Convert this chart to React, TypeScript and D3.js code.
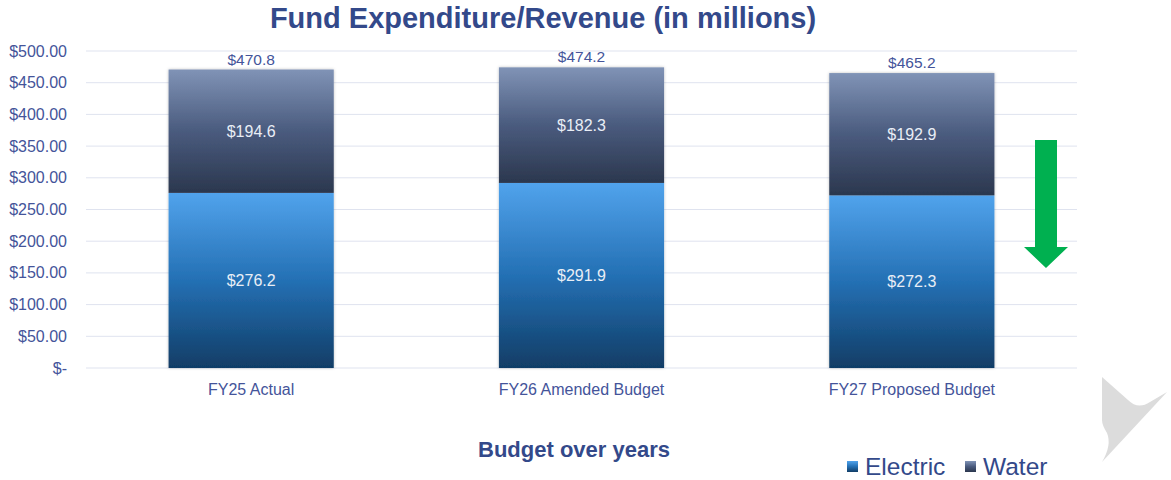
import React from "react";
import * as d3 from "d3";

const categories = ["FY25 Actual", "FY26 Amended Budget", "FY27 Proposed Budget"];
const electric = [276.2, 291.9, 272.3];
const water = [194.6, 182.3, 192.9];
const totals = [470.8, 474.2, 465.2];
const yTicks = [0, 50, 100, 150, 200, 250, 300, 350, 400, 450, 500];
const seriesNames = ["Electric", "Water"];

const W = 1171;
const H = 480;
const left = 86;
const right = 1077;
const top = 51;
const bottom = 368;
const FONT = "'Liberation Sans', Arial, sans-serif";
const TXT = "#44549a";

export default function App() {
  const x = d3.scaleBand<string>().domain(categories).range([left, right]).paddingInner(0.5).paddingOuter(0.25);
  const y = d3.scaleLinear().domain([0, 500]).range([bottom, top]);
  const fmt = (v: number) => (v === 0 ? "$-" : "$" + d3.format(".2f")(v));

  return (
    <svg width={W} height={H} style={{ position: "absolute", left: 0, top: 0, background: "#fff" }}>
      <defs>
        <linearGradient id="gW" x1="0" y1="0" x2="0" y2="1">
          <stop offset="0" stopColor="#8093b6" />
          <stop offset="0.5" stopColor="#4a5b7e" />
          <stop offset="1" stopColor="#2b374e" />
        </linearGradient>
        <linearGradient id="gE" x1="0" y1="0" x2="0" y2="1">
          <stop offset="0" stopColor="#51a3ec" />
          <stop offset="0.5" stopColor="#2470b4" />
          <stop offset="1" stopColor="#113d66" />
        </linearGradient>
        <filter id="sh" x="-10%" y="-10%" width="120%" height="120%">
          <feDropShadow dx="0" dy="0" stdDeviation="1.5" floodColor="#000" floodOpacity="0.25" />
        </filter>
      </defs>

      <text x={543} y={28} textAnchor="middle" fontFamily={FONT} fontWeight="bold" fontSize={29} fill="#33498a">
        Fund Expenditure/Revenue (in millions)
      </text>

      {yTicks.map((t) => (
        <g key={t}>
          <line x1={left} x2={right} y1={y(t)} y2={y(t)} stroke="#dfe3ef" strokeWidth={1} />
          <text x={67} y={y(t) + 5.5} textAnchor="end" fontFamily={FONT} fontSize={16} fill={TXT}>
            {fmt(t)}
          </text>
        </g>
      ))}

      {categories.map((c, i) => {
        const bx = x(c)!;
        const bw = x.bandwidth();
        const e = electric[i];
        const w = water[i];
        const cx = bx + bw / 2;
        return (
          <g key={c}>
            <g filter="url(#sh)">
              <rect x={bx} y={y(e)} width={bw} height={y(0) - y(e)} fill="url(#gE)" />
              <rect x={bx} y={y(e + w)} width={bw} height={y(e) - y(e + w)} fill="url(#gW)" />
            </g>
            <text x={cx} y={(y(0) + y(e)) / 2 + 5.5} textAnchor="middle" fontFamily={FONT} fontSize={16} fill="#e9eef6">
              ${e.toFixed(1)}
            </text>
            <text x={cx} y={(y(e) + y(e + w)) / 2 + 5.5} textAnchor="middle" fontFamily={FONT} fontSize={16} fill="#e9eef6">
              ${w.toFixed(1)}
            </text>
            <text x={cx} y={y(totals[i]) - 5} textAnchor="middle" fontFamily={FONT} fontSize={15.5} fill={TXT}>
              ${totals[i].toFixed(1)}
            </text>
            <text x={cx} y={395} textAnchor="middle" fontFamily={FONT} fontSize={16} fill={TXT}>
              {c}
            </text>
          </g>
        );
      })}

      <path d="M1035,140 L1057,140 L1057,247 L1068,247 L1046,268 L1024,247 L1035,247 Z" fill="#00b050" />

      <path
        d="M1102,377 L1128,400 Q1138,410 1150,402 L1167,392 L1102,462 Q1112,445 1107,433 Q1102,425 1102,420 Z"
        fill="#dcdcdc"
      />

      <text x={574} y={457} textAnchor="middle" fontFamily={FONT} fontWeight="bold" fontSize={22} fill="#33498a">
        Budget over years
      </text>

      <g fontFamily={FONT} fontSize={24.5} fill="#33498a">
        <rect x={847} y={461} width={11} height={11} fill="url(#gE)" />
        <text x={865} y={475}>{seriesNames[0]}</text>
        <rect x={965} y={461} width={11} height={11} fill="url(#gW)" />
        <text x={983} y={475}>{seriesNames[1]}</text>
      </g>
    </svg>
  );
}
